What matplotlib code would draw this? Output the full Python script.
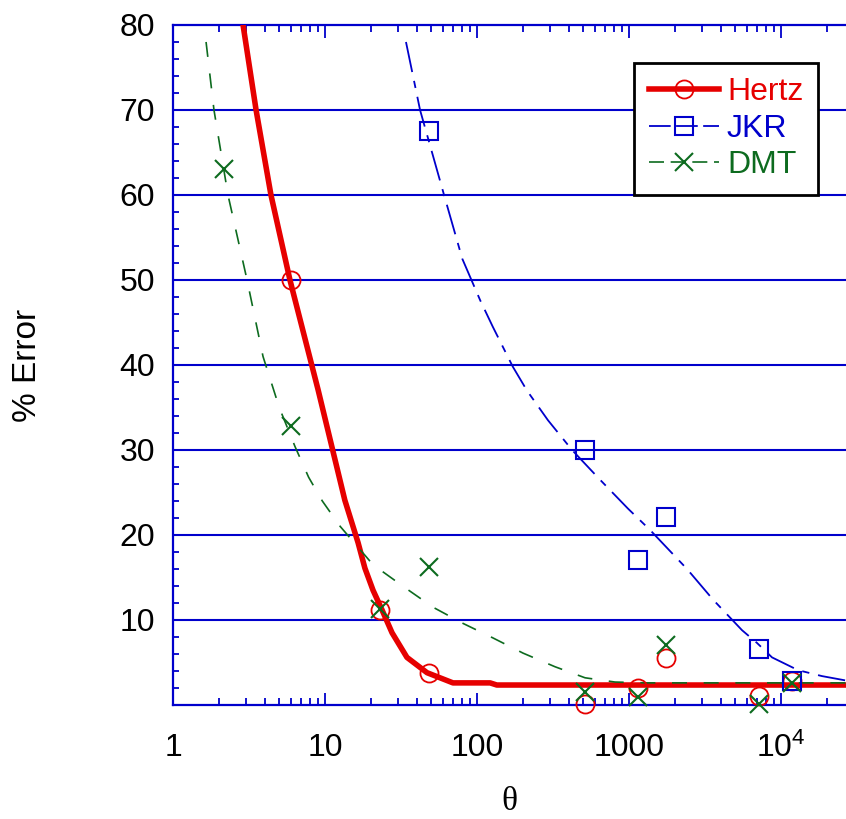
# =============================================================================
#   % Error vs theta — Hertz / JKR / DMT
# =============================================================================

import matplotlib.pyplot as plt
from matplotlib.lines import Line2D
from matplotlib.ticker import FixedLocator, FixedFormatter, LogLocator, NullFormatter
import numpy as np

plt.rcParams['font.family'] = ['Liberation Sans', 'DejaVu Sans']
plt.rcParams['mathtext.fontset'] = 'custom'
plt.rcParams['mathtext.rm'] = 'Liberation Sans'

# =============================================================================
#                              DATOS
# =============================================================================

# puntos medidos
hertz_theta = [6, 23, 48, 514, 1146, 1751, 7170, 11810]
hertz_err = [50, 11.2, 3.8, 0.1, 2.0, 5.5, 1.0, 2.8]

jkr_theta = [48, 514, 1146, 1751, 7170, 11810]
jkr_err = [67.5, 30.0, 17.1, 22.1, 6.6, 2.8]

dmt_theta = [2.17, 6, 23, 48, 514, 1146, 1751, 7170, 11810]
dmt_err = [63.0, 32.8, 11.3, 16.2, 1.5, 0.9, 7.0, 0.1, 2.6]

# curvas de ajuste
hertz_fit_theta = [2.89, 3.52, 4.41, 5.88, 9.0, 13.5, 16.5, 18.3,
                   20.7, 23.7, 27.6, 34.6, 46.9, 69.5, 122, 135, 26800]
hertz_fit_err = [80, 70, 60, 50, 37.1, 24.1, 19.1, 16.1,
                 13.5, 11.2, 8.5, 5.6, 3.8, 2.6, 2.6, 2.35, 2.35]

dmt_fit_theta = [1.65, 1.86, 2.30, 3.07, 3.91, 5.0, 6.35, 7.8, 9.6,
                 12.6, 20.7, 33.6, 51.4, 80.9, 127, 201, 326, 514, 809, 1313, 26800]
dmt_fit_err = [78, 70, 60, 50, 41.0, 35.0, 30.4, 26.8, 24.0,
               21.0, 16.5, 13.8, 11.5, 9.6, 7.9, 6.1, 4.5, 3.2, 2.7, 2.6, 2.6]

jkr_fit_theta = [34.1, 42.2, 60.7, 80, 105, 127, 172, 213, 293, 422, 645, 985, 1374,
                 2408, 3570, 5540, 6950, 8730, 12940, 18600, 26400]
jkr_fit_err = [78, 70, 60, 52.5, 47.6, 44.5, 39.8, 37.0, 33.5, 30.0, 26.5, 23.1, 20.6,
               16.0, 12.4, 8.8, 7.3, 5.6, 4.1, 3.4, 2.9]

x_ticks = [1, 10, 100, 1000, 10000]
x_ticklabels = ['1', '10', '100', '1000', r'$\mathregular{10^4}$']
y_ticks = [10, 20, 30, 40, 50, 60, 70, 80]

RED = '#e60000'
BLUE = '#0000cc'
GREEN = '#0d6b1f'

# =============================================================================
#                              FIGURA
# =============================================================================

fig = plt.figure(figsize=(8.46, 8.19), dpi=100)
ax = fig.add_axes([0.2045, 0.1392, 0.7955, 0.8303])

ax.set_xscale('log')
ax.set_xlim(1, 10 ** (673 / 152))
ax.set_ylim(0, 80)

# rejilla horizontal azul
for y in y_ticks[:-1]:
    ax.axhline(y, color=BLUE, lw=1.5, zorder=1)

ax.plot(hertz_fit_theta, hertz_fit_err, color=RED, lw=4, zorder=3,
        solid_joinstyle='round')
ax.plot(jkr_fit_theta, jkr_fit_err, color=BLUE, lw=1.3, dashes=[17, 5, 4, 5], zorder=3)
ax.plot(dmt_fit_theta, dmt_fit_err, color=GREEN, lw=1.2, dashes=[9, 10], zorder=4)

ax.plot(hertz_theta, hertz_err, 'o', ms=13, mfc='none', mec=RED, mew=1.3,
        clip_on=False, zorder=5)
ax.plot(jkr_theta, jkr_err, 's', ms=13, mfc='none', mec=BLUE, mew=1.5,
        clip_on=False, zorder=5)
ax.plot(dmt_theta, dmt_err, 'x', ms=13, mec=GREEN, mew=1.5,
        clip_on=False, zorder=6)

# ejes
for side in ['left', 'top', 'bottom']:
    ax.spines[side].set_color(BLUE)
    ax.spines[side].set_linewidth(1.6)
ax.spines['right'].set_visible(False)

ax.xaxis.set_major_locator(FixedLocator(x_ticks))
ax.xaxis.set_major_formatter(FixedFormatter(x_ticklabels))
ax.xaxis.set_minor_locator(LogLocator(base=10, subs=np.arange(2, 10)))
ax.xaxis.set_minor_formatter(NullFormatter())
ax.yaxis.set_major_locator(FixedLocator(y_ticks))
ax.yaxis.set_minor_locator(FixedLocator(np.arange(2, 80, 2)))

ax.tick_params(axis='x', which='major', direction='in', top=True, length=9, width=1.3,
               color=BLUE, labelsize=23, pad=20)
ax.tick_params(axis='x', which='minor', direction='in', top=True, length=5, width=1.3,
               color=BLUE)
ax.tick_params(axis='y', which='both', direction='in', length=4, width=1.3,
               color=BLUE, labelsize=23, pad=13)

ax.set_xlabel('θ', family='Liberation Serif', fontsize=24, labelpad=16)
fig.text(28 / 846, 1 - 365 / 819, '% Error', rotation=90, ha='center', va='center',
         fontsize=24)

# leyenda
handles = [
    Line2D([], [], color=RED, lw=4, marker='o', ms=13, mfc='none', mec=RED, mew=1.3),
    Line2D([], [], color=BLUE, lw=1.3, dashes=[12, 3], marker='s', ms=13, mfc='none',
           mec=BLUE, mew=1.5),
    Line2D([], [], color=GREEN, lw=1.2, dashes=[9, 4], marker='x', ms=13, mec=GREEN, mew=1.5),
]
leg = ax.legend(handles, ['Hertz', 'JKR', 'DMT'], loc='upper right',
                bbox_to_anchor=(0.958, 0.944), borderaxespad=0, fontsize=23,
                handlelength=2.2, handletextpad=0.25, labelspacing=0.2,
                borderpad=0.45, fancybox=False, framealpha=1, edgecolor='black')
leg.get_frame().set_linewidth(2)
for txt, c in zip(leg.get_texts(), [RED, BLUE, GREEN]):
    txt.set_color(c)
leg.set_zorder(10)

plt.savefig('out.png', dpi=100)
